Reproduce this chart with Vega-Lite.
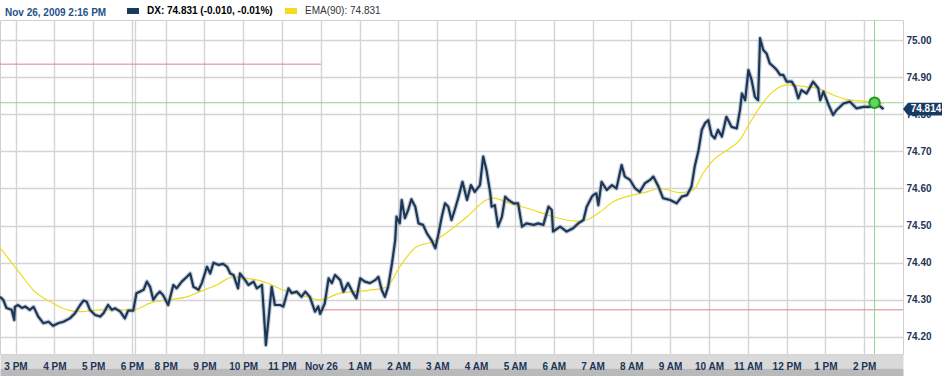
{
  "$schema": "https://vega.github.io/schema/vega-lite/v6.json",
  "width": 903,
  "height": 334,
  "autosize": {"type": "none"},
  "padding": {"left": 0, "top": 20, "right": 42, "bottom": 22},
  "background": "white",
  "config": {
    "font": "Liberation Sans",
    "view": {"stroke": "#cfcfcf", "strokeWidth": 1},
    "axis": {"gridColor": "#d4d4d4", "gridWidth": 1.4}
  },
  "title": {
    "text": "Nov 26, 2009 2:16 PM",
    "anchor": "start",
    "frame": "group",
    "dx": 5,
    "offset": -21,
    "baseline": "alphabetic",
    "font": "Liberation Sans",
    "fontSize": 10,
    "fontWeight": "bold",
    "color": "#24518a"
  },
  "resolve": {"axis": {"x": "independent"}},
  "datasets": {
    "dx": [
      {"t": -24, "v": 74.308}, {"t": -19, "v": 74.300}, {"t": -14, "v": 74.278}, {"t": -6, "v": 74.273},
      {"t": -2, "v": 74.246}, {"t": -1, "v": 74.281}, {"t": 4, "v": 74.286}, {"t": 10, "v": 74.278},
      {"t": 15, "v": 74.282}, {"t": 22, "v": 74.273}, {"t": 28, "v": 74.281}, {"t": 35, "v": 74.255},
      {"t": 43, "v": 74.237}, {"t": 51, "v": 74.241}, {"t": 58, "v": 74.230}, {"t": 66, "v": 74.237},
      {"t": 74, "v": 74.241}, {"t": 84, "v": 74.250}, {"t": 92, "v": 74.264}, {"t": 100, "v": 74.286},
      {"t": 105, "v": 74.298}, {"t": 110, "v": 74.295}, {"t": 115, "v": 74.273}, {"t": 123, "v": 74.259},
      {"t": 131, "v": 74.255}, {"t": 136, "v": 74.264}, {"t": 143, "v": 74.286}, {"t": 149, "v": 74.273},
      {"t": 154, "v": 74.277}, {"t": 162, "v": 74.268}, {"t": 169, "v": 74.250}, {"t": 174, "v": 74.271},
      {"t": 182, "v": 74.271}, {"t": 187, "v": 74.318}, {"t": 192, "v": 74.322}, {"t": 198, "v": 74.327},
      {"t": 203, "v": 74.349}, {"t": 208, "v": 74.335}, {"t": 213, "v": 74.300}, {"t": 218, "v": 74.313},
      {"t": 223, "v": 74.322}, {"t": 228, "v": 74.313}, {"t": 236, "v": 74.286}, {"t": 244, "v": 74.340},
      {"t": 249, "v": 74.331}, {"t": 257, "v": 74.349}, {"t": 265, "v": 74.362}, {"t": 270, "v": 74.371},
      {"t": 275, "v": 74.335}, {"t": 283, "v": 74.327}, {"t": 288, "v": 74.345}, {"t": 296, "v": 74.389},
      {"t": 301, "v": 74.371}, {"t": 306, "v": 74.400}, {"t": 314, "v": 74.394}, {"t": 321, "v": 74.397},
      {"t": 327, "v": 74.389}, {"t": 332, "v": 74.371}, {"t": 337, "v": 74.367}, {"t": 344, "v": 74.331},
      {"t": 347, "v": 74.371}, {"t": 355, "v": 74.353}, {"t": 360, "v": 74.340}, {"t": 368, "v": 74.349},
      {"t": 373, "v": 74.331}, {"t": 381, "v": 74.340}, {"t": 386, "v": 74.210}, {"t": 387, "v": 74.178},
      {"t": 391, "v": 74.246}, {"t": 396, "v": 74.335}, {"t": 401, "v": 74.286}, {"t": 409, "v": 74.286},
      {"t": 414, "v": 74.282}, {"t": 422, "v": 74.331}, {"t": 427, "v": 74.318}, {"t": 435, "v": 74.322},
      {"t": 442, "v": 74.308}, {"t": 448, "v": 74.322}, {"t": 455, "v": 74.308}, {"t": 463, "v": 74.268},
      {"t": 468, "v": 74.282}, {"t": 471, "v": 74.262}, {"t": 478, "v": 74.290}, {"t": 484, "v": 74.358},
      {"t": 489, "v": 74.345}, {"t": 494, "v": 74.367}, {"t": 502, "v": 74.353}, {"t": 507, "v": 74.322},
      {"t": 514, "v": 74.345}, {"t": 522, "v": 74.318}, {"t": 527, "v": 74.304}, {"t": 533, "v": 74.358},
      {"t": 540, "v": 74.349}, {"t": 548, "v": 74.345}, {"t": 556, "v": 74.353}, {"t": 561, "v": 74.362},
      {"t": 566, "v": 74.327}, {"t": 571, "v": 74.308}, {"t": 576, "v": 74.335}, {"t": 582, "v": 74.398},
      {"t": 587, "v": 74.461}, {"t": 589, "v": 74.524}, {"t": 594, "v": 74.506}, {"t": 597, "v": 74.569},
      {"t": 602, "v": 74.520}, {"t": 607, "v": 74.542}, {"t": 612, "v": 74.571}, {"t": 618, "v": 74.551},
      {"t": 623, "v": 74.506}, {"t": 630, "v": 74.502}, {"t": 636, "v": 74.479}, {"t": 643, "v": 74.461},
      {"t": 649, "v": 74.439}, {"t": 654, "v": 74.479}, {"t": 659, "v": 74.524}, {"t": 664, "v": 74.560},
      {"t": 669, "v": 74.551}, {"t": 674, "v": 74.515}, {"t": 679, "v": 74.542}, {"t": 685, "v": 74.578},
      {"t": 691, "v": 74.618}, {"t": 698, "v": 74.569}, {"t": 704, "v": 74.609}, {"t": 710, "v": 74.591},
      {"t": 718, "v": 74.609}, {"t": 723, "v": 74.686}, {"t": 728, "v": 74.650}, {"t": 734, "v": 74.587},
      {"t": 736, "v": 74.551}, {"t": 741, "v": 74.555}, {"t": 746, "v": 74.497}, {"t": 752, "v": 74.524},
      {"t": 757, "v": 74.578}, {"t": 762, "v": 74.569}, {"t": 770, "v": 74.560}, {"t": 777, "v": 74.560},
      {"t": 783, "v": 74.497}, {"t": 790, "v": 74.506}, {"t": 801, "v": 74.502}, {"t": 808, "v": 74.506},
      {"t": 816, "v": 74.502}, {"t": 824, "v": 74.551}, {"t": 829, "v": 74.542}, {"t": 831, "v": 74.484},
      {"t": 842, "v": 74.497}, {"t": 852, "v": 74.484}, {"t": 862, "v": 74.493}, {"t": 870, "v": 74.506},
      {"t": 878, "v": 74.515}, {"t": 883, "v": 74.551}, {"t": 891, "v": 74.578}, {"t": 893, "v": 74.582},
      {"t": 898, "v": 74.587}, {"t": 901, "v": 74.555}, {"t": 906, "v": 74.618}, {"t": 914, "v": 74.596},
      {"t": 922, "v": 74.609}, {"t": 929, "v": 74.600}, {"t": 937, "v": 74.663}, {"t": 942, "v": 74.632},
      {"t": 950, "v": 74.623}, {"t": 958, "v": 74.600}, {"t": 965, "v": 74.591}, {"t": 973, "v": 74.614},
      {"t": 981, "v": 74.623}, {"t": 986, "v": 74.632}, {"t": 994, "v": 74.605}, {"t": 1001, "v": 74.574},
      {"t": 1012, "v": 74.569}, {"t": 1022, "v": 74.560}, {"t": 1030, "v": 74.578}, {"t": 1038, "v": 74.582},
      {"t": 1045, "v": 74.605}, {"t": 1050, "v": 74.659}, {"t": 1056, "v": 74.704}, {"t": 1061, "v": 74.758},
      {"t": 1066, "v": 74.776}, {"t": 1071, "v": 74.784}, {"t": 1076, "v": 74.744}, {"t": 1081, "v": 74.735},
      {"t": 1086, "v": 74.758}, {"t": 1092, "v": 74.740}, {"t": 1099, "v": 74.793}, {"t": 1107, "v": 74.766},
      {"t": 1115, "v": 74.762}, {"t": 1120, "v": 74.811}, {"t": 1123, "v": 74.856}, {"t": 1128, "v": 74.838},
      {"t": 1133, "v": 74.919}, {"t": 1138, "v": 74.892}, {"t": 1143, "v": 74.847}, {"t": 1148, "v": 74.838},
      {"t": 1151, "v": 75.005}, {"t": 1156, "v": 74.973}, {"t": 1161, "v": 74.964}, {"t": 1166, "v": 74.937},
      {"t": 1172, "v": 74.928}, {"t": 1177, "v": 74.919}, {"t": 1182, "v": 74.906}, {"t": 1187, "v": 74.906},
      {"t": 1192, "v": 74.888}, {"t": 1200, "v": 74.888}, {"t": 1205, "v": 74.874}, {"t": 1210, "v": 74.843},
      {"t": 1215, "v": 74.865}, {"t": 1223, "v": 74.856}, {"t": 1233, "v": 74.888}, {"t": 1241, "v": 74.870},
      {"t": 1244, "v": 74.838}, {"t": 1249, "v": 74.861}, {"t": 1257, "v": 74.825}, {"t": 1264, "v": 74.798},
      {"t": 1269, "v": 74.811}, {"t": 1280, "v": 74.829}, {"t": 1290, "v": 74.834}, {"t": 1300, "v": 74.816},
      {"t": 1311, "v": 74.820}, {"t": 1321, "v": 74.820}, {"t": 1329, "v": 74.831}, {"t": 1336, "v": 74.822},
      {"t": 1342, "v": 74.814}
    ],
    "ema": [
      {"t": -24, "v": 74.44}, {"t": 7, "v": 74.371}, {"t": 27, "v": 74.327}, {"t": 58, "v": 74.291},
      {"t": 80, "v": 74.273}, {"t": 100, "v": 74.268}, {"t": 131, "v": 74.273}, {"t": 182, "v": 74.273},
      {"t": 208, "v": 74.291}, {"t": 234, "v": 74.300}, {"t": 265, "v": 74.308}, {"t": 285, "v": 74.322},
      {"t": 311, "v": 74.340}, {"t": 336, "v": 74.361}, {"t": 358, "v": 74.358}, {"t": 383, "v": 74.349},
      {"t": 413, "v": 74.327}, {"t": 440, "v": 74.313}, {"t": 471, "v": 74.300}, {"t": 502, "v": 74.318},
      {"t": 543, "v": 74.325}, {"t": 574, "v": 74.335}, {"t": 594, "v": 74.389}, {"t": 620, "v": 74.443},
      {"t": 646, "v": 74.457}, {"t": 672, "v": 74.488}, {"t": 698, "v": 74.524}, {"t": 728, "v": 74.569},
      {"t": 739, "v": 74.574}, {"t": 764, "v": 74.560}, {"t": 800, "v": 74.542}, {"t": 831, "v": 74.524},
      {"t": 868, "v": 74.512}, {"t": 883, "v": 74.515}, {"t": 904, "v": 74.537}, {"t": 924, "v": 74.564},
      {"t": 976, "v": 74.591}, {"t": 996, "v": 74.600}, {"t": 1027, "v": 74.589}, {"t": 1048, "v": 74.596},
      {"t": 1063, "v": 74.641}, {"t": 1079, "v": 74.677}, {"t": 1104, "v": 74.708}, {"t": 1120, "v": 74.731},
      {"t": 1135, "v": 74.776}, {"t": 1151, "v": 74.820}, {"t": 1171, "v": 74.861}, {"t": 1192, "v": 74.879},
      {"t": 1223, "v": 74.874}, {"t": 1244, "v": 74.868}, {"t": 1264, "v": 74.852}, {"t": 1285, "v": 74.840},
      {"t": 1316, "v": 74.834}, {"t": 1329, "v": 74.831}, {"t": 1342, "v": 74.829}
    ],
    "levels": [
      {"t1": -24, "t2": 472, "v": 74.935},
      {"t1": 472, "t2": 1372, "v": 74.273}
    ],
    "last": [{"t": 1372, "v": 74.814, "label": "74.814"}],
    "cursor": [{"t": 1328, "v": 74.831}]
  },
  "layer": [
    {
      "data": {"name": "levels"},
      "mark": {"type": "rule", "color": "#d98585", "strokeWidth": 1},
      "encoding": {
        "x": {"field": "t1", "type": "quantitative", "scale": {"domain": [-24, 1372], "nice": false, "zero": false},
          "axis": {
            "orient": "bottom",
            "values": [0,60,120,180,185,232,292,352,412,472,532,592,652,712,772,832,892,952,1012,1072,1132,1192,1252,1312],
            "labelExpr": "''",
            "title": null,
            "ticks": false,
            "labels": true,
            "labelOpacity": 0,
            "domain": true,
            "domainColor": "#d9d9d9",
            "domainWidth": 14,
            "offset": 7,
            "grid": true
          }
        },
        "x2": {"field": "t2"},
        "y": {"field": "v", "type": "quantitative", "scale": {"domain": [74.154, 75.054], "nice": false, "zero": false},
          "axis": {
            "orient": "right",
            "values": [74.2,74.25,74.3,74.35,74.4,74.45,74.5,74.55,74.6,74.65,74.7,74.75,74.8,74.85,74.9,74.95,75.0],
            "format": ".2f",
            "title": null,
            "ticks": false,
            "domain": false,
            "labelPadding": 3,
            "labelFont": "Liberation Sans",
            "labelFontSize": 10,
            "labelFontWeight": "bold",
            "labelColor": "#1c3557",
            "labelOverlap": false,
            "labelFlush": false,
            "labelBound": false,
            "grid": true
          }
        }
      }
    },
    {
      "data": {"name": "cursor"},
      "mark": {"type": "rule", "color": "#8fd68f", "strokeWidth": 1},
      "encoding": {"y": {"field": "v", "type": "quantitative"}}
    },
    {
      "data": {"name": "cursor"},
      "mark": {"type": "rule", "color": "#8fd68f", "strokeWidth": 1},
      "encoding": {"x": {"field": "t", "type": "quantitative",
        "axis": {
          "orient": "bottom",
          "values": [0],
          "labelExpr": "''",
          "title": null,
          "ticks": false,
          "labels": true,
          "labelOpacity": 0,
          "domain": true,
          "domainColor": "#b9b9b9",
          "domainWidth": 8,
          "offset": 18,
          "grid": false
        }
      }}
    },
    {
      "data": {"name": "ema"},
      "mark": {"type": "line", "color": "#eedb1c", "strokeWidth": 1.2, "interpolate": "monotone"},
      "encoding": {"x": {"field": "t", "type": "quantitative", "axis": null}, "y": {"field": "v", "type": "quantitative"}}
    },
    {
      "data": {"name": "dx"},
      "mark": {"type": "line", "color": "#8e9cae", "strokeWidth": 4.5, "opacity": 0.5, "strokeJoin": "round"},
      "encoding": {"x": {"field": "t", "type": "quantitative", "axis": null}, "y": {"field": "v", "type": "quantitative"}}
    },
    {
      "data": {"name": "dx"},
      "mark": {"type": "line", "color": "#1b3657", "strokeWidth": 2.2, "strokeJoin": "round"},
      "encoding": {
        "x": {"field": "t", "type": "quantitative",
          "axis": {
            "orient": "bottom",
            "values": [0,60,120,180,185,232,292,352,412,472,532,592,652,712,772,832,892,952,1012,1072,1132,1192,1252,1312],
            "labelExpr": "['3 PM','4 PM','5 PM','6 PM','','8 PM','9 PM','10 PM','11 PM','Nov 26','1 AM','2 AM','3 AM','4 AM','5 AM','6 AM','7 AM','8 AM','9 AM','10 AM','11 AM','12 PM','1 PM','2 PM'][indexof([0,60,120,180,185,232,292,352,412,472,532,592,652,712,772,832,892,952,1012,1072,1132,1192,1252,1312], datum.value)]",
            "title": null,
            "ticks": false,
            "domain": false,
            "grid": false,
            "labelPadding": 7,
            "labelFont": "Liberation Sans",
            "labelFontSize": 10,
            "labelFontWeight": "bold",
            "labelColor": "#1c3557",
            "labelOverlap": false,
            "labelFlush": false,
            "labelBound": false
          }
        },
        "y": {"field": "v", "type": "quantitative"}
      }
    },
    {
      "data": {"name": "cursor"},
      "mark": {"type": "point", "shape": "circle", "filled": true, "size": 110, "fill": "#63d463", "stroke": "#1f9a1f", "strokeWidth": 2, "opacity": 1},
      "encoding": {"x": {"field": "t", "type": "quantitative", "axis": null}, "y": {"field": "v", "type": "quantitative"}}
    },
    {
      "data": {"name": "last"},
      "mark": {"type": "point", "shape": "M0,0L0.25,-0.32L1.95,-0.32L1.95,0.32L0.25,0.32Z", "filled": true, "size": 1600, "fill": "#173a63", "strokeWidth": 0, "opacity": 1},
      "encoding": {"x": {"field": "t", "type": "quantitative", "axis": null}, "y": {"field": "v", "type": "quantitative"}}
    },
    {
      "data": {"name": "last"},
      "mark": {"type": "text", "color": "white", "font": "Liberation Sans", "fontSize": 10, "fontWeight": "bold", "dx": 23, "align": "center", "baseline": "middle"},
      "encoding": {"x": {"field": "t", "type": "quantitative", "axis": null}, "y": {"field": "v", "type": "quantitative"}, "text": {"field": "label"}}
    },
    {
      "data": {"values": []},
      "mark": {"type": "square", "filled": true},
      "encoding": {
        "color": {
          "field": "series", "type": "nominal",
          "scale": {"domain": ["DX", "EMA"], "range": ["#173a63", "#f2dc1e"]},
          "legend": {
            "orient": "none",
            "legendX": 127,
            "legendY": -15,
            "direction": "horizontal",
            "title": null,
            "padding": 0,
            "symbolType": "M-1,-0.5H1V0.5H-1Z",
            "symbolSize": 144,
            "symbolStrokeWidth": 0,
            "symbolOpacity": 1,
            "labelFont": "Liberation Sans",
            "labelFontSize": 10,
            "labelFontWeight": {"expr": "datum.value == 'DX' ? 'bold' : 'normal'"},
            "labelColor": {"expr": "datum.value == 'DX' ? '#000000' : '#333333'"},
            "labelOffset": 8,
            "columnPadding": 12,
            "labelExpr": "datum.value == 'DX' ? 'DX: 74.831 (-0.010, -0.01%)' : 'EMA(90): 74.831'"
          }
        }
      }
    }
  ]
}
